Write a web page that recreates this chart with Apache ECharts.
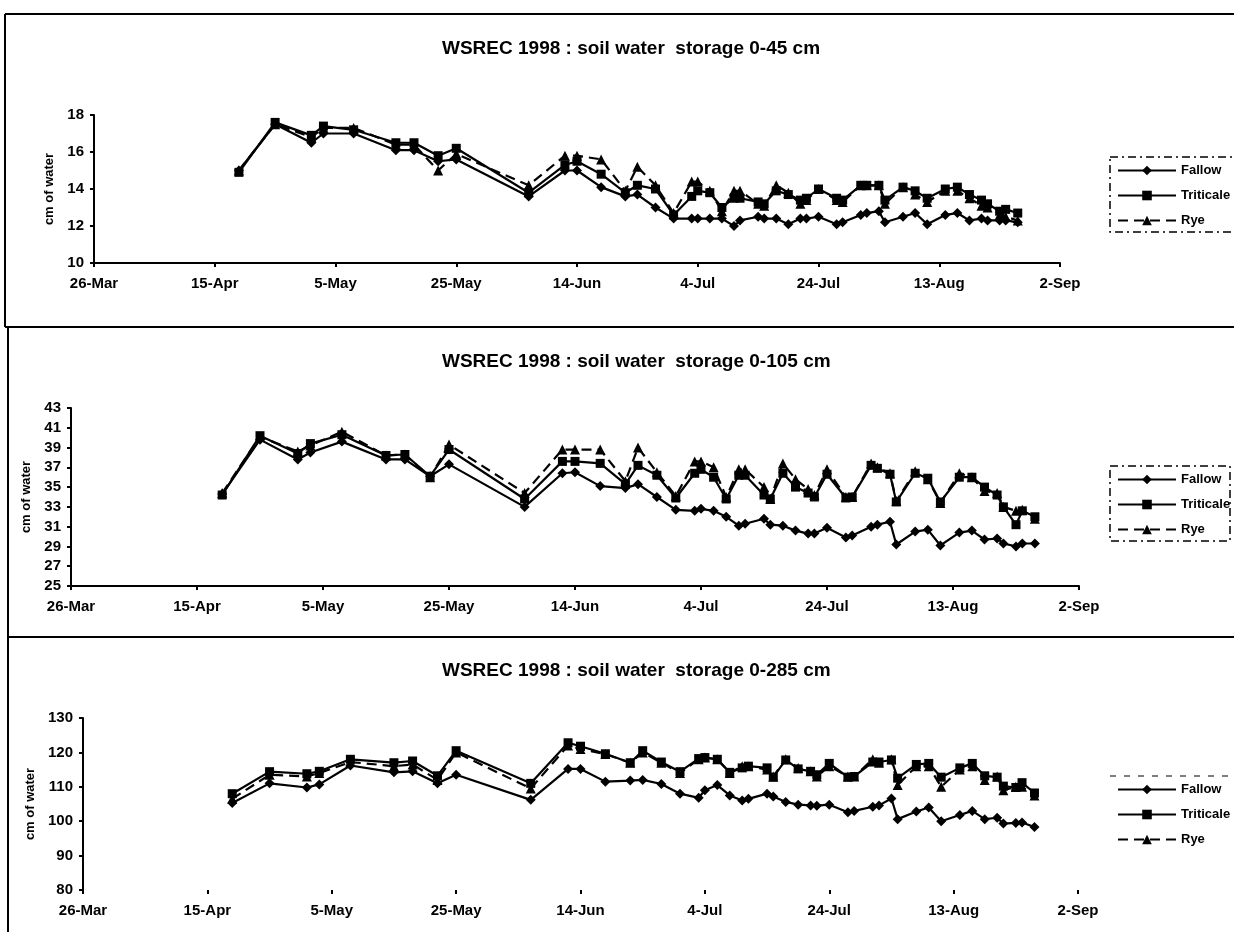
<!DOCTYPE html>
<html>
<head>
<meta charset="utf-8">
<script src="https://cdn.jsdelivr.net/npm/echarts@6/dist/echarts.min.js"></script>
<style>
html,body{margin:0;padding:0;background:#fff;}
#chart{width:1234px;height:932px;}
</style>
</head>
<body>
<div id="chart"></div>
<script>
// x tick labels (every 20 days starting 26-Mar-1998)
const xTickLabels = ['26-Mar','15-Apr','5-May','25-May','14-Jun','4-Jul','24-Jul','13-Aug','2-Sep'];
const seriesNames = ['Fallow','Triticale','Rye'];
const titles = ['WSREC 1998 : soil water  storage 0-45 cm','WSREC 1998 : soil water  storage 0-105 cm','WSREC 1998 : soil water  storage 0-285 cm'];

// sampling dates, as days after 26-Mar-1998
const days = [24,30,36,38,43,50,53,57,60,72,78,80,84,88,90,93,96,99,100,102,104,106,107,110,111,113,115,117,118,120,123,124,127,128,130,131,134,136,138,141,143,145,147,148,150,151,153];

// 0-45 cm
const fallow45 = [15.0,17.5,16.5,17.0,17.0,16.1,16.1,15.5,15.6,13.6,15.0,15.0,14.1,13.6,13.7,13.0,12.4,12.4,12.4,12.4,12.4,12.0,12.3,12.5,12.4,12.4,12.1,12.4,12.4,12.5,12.1,12.2,12.6,12.7,12.8,12.2,12.5,12.7,12.1,12.6,12.7,12.3,12.4,12.3,12.3,12.3,12.2];
const triticale45 = [14.9,17.6,16.9,17.4,17.2,16.5,16.5,15.8,16.2,13.8,15.3,15.5,14.8,13.8,14.2,14.0,12.6,13.6,13.9,13.8,13.0,13.5,13.5,13.3,13.2,13.9,13.7,13.4,13.5,14.0,13.5,13.4,14.2,14.2,14.2,13.4,14.1,13.9,13.5,14.0,14.1,13.7,13.4,13.2,12.8,12.9,12.7];
const rye45 = [15.0,17.5,16.8,17.3,17.3,16.4,16.4,15.0,15.9,14.2,15.8,15.8,15.6,13.9,15.2,14.2,12.7,14.4,14.4,13.9,12.8,13.9,13.9,13.2,13.1,14.2,13.8,13.2,13.4,14.0,13.4,13.3,14.2,14.2,14.2,13.2,14.1,13.7,13.3,13.9,13.9,13.5,13.1,13.0,12.6,12.5,12.3];

// 0-105 cm
const fallow105 = [34.3,39.8,37.8,38.5,39.6,37.8,37.8,36.1,37.3,33.0,36.4,36.5,35.1,34.9,35.3,34.0,32.7,32.6,32.8,32.6,32.0,31.1,31.3,31.8,31.2,31.1,30.6,30.3,30.3,30.9,29.9,30.1,31.0,31.2,31.5,29.2,30.5,30.7,29.1,30.4,30.6,29.7,29.8,29.3,29.0,29.3,29.3];
const triticale105 = [34.2,40.2,38.4,39.4,40.3,38.2,38.3,36.1,38.8,33.8,37.6,37.6,37.4,35.3,37.2,36.2,33.9,36.4,36.8,36.0,33.8,36.2,36.2,34.2,33.8,36.4,35.0,34.4,34.0,36.3,33.9,34.0,37.2,36.9,36.3,33.5,36.4,35.9,33.5,36.0,36.0,35.0,34.2,33.0,31.2,32.6,32.0];
const rye105 = [34.4,40.1,38.6,39.2,40.6,38.2,38.3,36.0,39.3,34.4,38.8,38.8,38.8,35.6,39.0,36.5,34.1,37.6,37.6,37.0,34.0,36.8,36.8,35.0,33.8,37.4,35.8,34.8,34.2,36.8,34.0,34.0,37.4,37.0,36.4,33.6,36.6,35.8,33.4,36.4,36.0,34.6,34.4,33.0,32.6,32.7,31.8];

// 0-285 cm
const fallow285 = [105.3,111.0,109.8,110.7,116.2,114.2,114.5,111.0,113.5,106.2,115.2,115.2,111.5,111.8,112.0,110.8,108.0,106.8,109.0,110.5,107.5,106.0,106.5,108.0,107.2,105.6,104.8,104.6,104.5,104.8,102.6,103.0,104.2,104.6,106.6,100.6,102.8,104.0,100.0,101.8,103.0,100.6,101.0,99.3,99.5,99.6,98.3];
const triticale285 = [108.0,114.4,113.8,114.5,118.0,117.0,117.5,113.2,120.5,111.0,122.8,121.8,119.6,117.0,120.5,117.2,114.4,118.2,118.5,118.0,114.2,115.5,116.0,115.5,112.8,117.8,115.2,114.5,113.5,116.8,112.8,113.0,117.2,117.2,117.8,112.5,116.5,116.8,112.8,115.5,116.8,113.2,112.8,110.2,109.8,111.2,108.2];
const rye285 = [106.5,113.5,113.0,114.0,117.2,116.0,116.5,112.0,120.0,109.5,122.0,121.0,119.5,117.0,120.0,117.0,114.0,118.0,118.5,118.0,114.0,116.0,116.0,115.0,113.0,118.0,115.5,114.5,113.0,116.0,113.0,113.0,118.0,117.0,118.0,110.5,116.0,116.0,110.0,115.0,116.0,112.0,113.0,109.0,110.0,110.0,107.5];

// y-axis ranges / ticks
const yMin = [10,25,80], yMax = [18,43,130], yStep = [2,2,10];

const panels = [
  {f:fallow45, t:triticale45, r:rye45},
  {f:fallow105, t:triticale105, r:rye105},
  {f:fallow285, t:triticale285, r:rye285}
];

const FONT = '"Liberation Sans", Arial, sans-serif';
const grids = [
  {left:94, top:115, width:966, height:148},
  {left:71, top:408, width:1008, height:178},
  {left:83, top:718, width:995, height:172}
];
const titleTops = [34, 347, 656];
const nameGaps = [38, 23, 37];
const legendTops = [159, 468, 778];

const toPts = arr => days.map((d,i)=>[d, arr[i]]);

const xAxes = grids.map((g,i)=>({
  type:'value', gridIndex:i, min:0, max:160, interval:20,
  axisLine:{show:i!==2, lineStyle:{color:'#000', width:2}},
  axisTick:{show:true, length:4, inside:false, lineStyle:{color:'#000', width:2}},
  splitLine:{show:false},
  axisLabel:{color:'#000', fontFamily:FONT, fontWeight:'bold', fontSize:15, margin:13,
    formatter: v => xTickLabels[Math.round(v/20)] || ''}
}));
const yAxes = grids.map((g,i)=>({
  type:'value', gridIndex:i, min:yMin[i], max:yMax[i], interval:yStep[i],
  name:'cm of water', nameLocation:'middle', nameRotate:90, nameGap:nameGaps[i],
  nameTextStyle:{color:'#000', fontFamily:FONT, fontWeight:'bold', fontSize:13},
  axisLine:{show:true, lineStyle:{color:'#000', width:2}},
  axisTick:{show:true, length:4, lineStyle:{color:'#000', width:2}},
  splitLine:{show:false},
  axisLabel:{color:'#000', fontFamily:FONT, fontWeight:'bold', fontSize:15, margin:10}
}));

const series = [];
panels.forEach((p,i)=>{
  series.push({name:'Fallow', type:'line', xAxisIndex:i, yAxisIndex:i, data:toPts(p.f),
    symbol:'diamond', symbolSize:10, lineStyle:{color:'#000', width:2.2}, itemStyle:{color:'#000'}, z:2});
  series.push({name:'Rye', type:'line', xAxisIndex:i, yAxisIndex:i, data:toPts(p.r),
    symbol:'triangle', symbolSize:10, lineStyle:{color:'#000', width:2.2, type:[10,6]}, itemStyle:{color:'#000'}, z:3});
  series.push({name:'Triticale', type:'line', xAxisIndex:i, yAxisIndex:i, data:toPts(p.t),
    symbol:'rect', symbolSize:9, lineStyle:{color:'#000', width:2.2}, itemStyle:{color:'#000'}, z:4});
});

const legends = legendTops.map(t=>({
  data:seriesNames, orient:'vertical', left:1112, top:t, itemWidth:58, itemHeight:12, itemGap:12,
  textStyle:{color:'#000', fontFamily:FONT, fontWeight:'bold', fontSize:13}, selectedMode:false
}));

const blk = {stroke:'#000', lineWidth:2};
const dash = {stroke:'#000', lineWidth:1.5, lineDash:[8,4,2,4], fill:null};
const graphics = [
  {type:'line', shape:{x1:5,y1:14,x2:1234,y2:14}, style:blk},
  {type:'line', shape:{x1:5,y1:14,x2:5,y2:327}, style:blk},
  {type:'line', shape:{x1:5,y1:327,x2:1234,y2:327}, style:blk},
  {type:'line', shape:{x1:8,y1:327,x2:8,y2:637}, style:blk},
  {type:'line', shape:{x1:8,y1:637,x2:1234,y2:637}, style:blk},
  {type:'line', shape:{x1:8,y1:637,x2:8,y2:932}, style:blk},
  {type:'rect', shape:{x:1110,y:157,width:140,height:75}, style:dash},
  {type:'rect', shape:{x:1110,y:466,width:120,height:75}, style:dash},
  {type:'line', shape:{x1:1110,y1:776,x2:1234,y2:776}, style:{stroke:'#000', lineWidth:1.2, lineDash:[6,8]}}
];

const chart = echarts.init(document.getElementById('chart'), null, {renderer:'canvas'});
chart.setOption({
  animation:false,
  backgroundColor:'#fff',
  title: titles.map((t,i)=>({text:t, left:437, top:titleTops[i],
    textStyle:{color:'#000', fontFamily:FONT, fontWeight:'bold', fontSize:19}})),
  grid: grids,
  xAxis: xAxes,
  yAxis: yAxes,
  legend: legends,
  series: series,
  graphic: graphics
});
</script>
</body>
</html>
